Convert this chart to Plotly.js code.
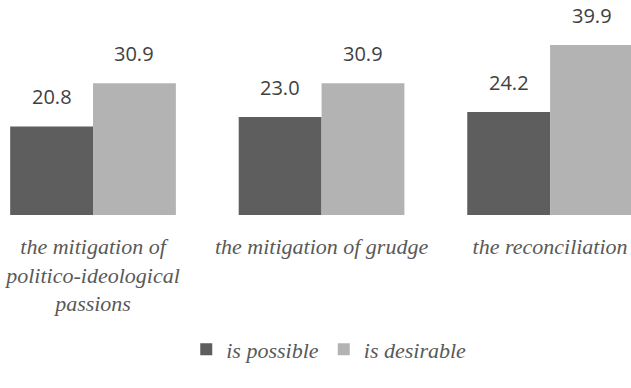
<!DOCTYPE html>
<html>
<head>
<meta charset="utf-8">
<script src="https://cdn.plot.ly/plotly-3.0.1.min.js"></script>
</head>
<body style="margin:0;background:#ffffff">
<div id="chart" style="width:631px;height:388px"></div>
<script>
// Attitudes towards each outcome, in percent
const categories = [
  "the mitigation of<br>politico-ideological<br>passions",
  "the mitigation of grudge",
  "the reconciliation"
];
const seriesNames = ["is possible", "is desirable"];
const possibleValues = [20.8, 23.0, 24.2];
const desirableValues = [30.9, 30.9, 39.9];

const colors = ["#5e5e5e", "#b3b3b3"];
const barGap = 0.275;
const labelFont = "Liberation Serif";
const numberFont = "Open Sans";

const traces = [
  {
    type: "bar",
    name: seriesNames[0],
    x: categories,
    y: possibleValues,
    marker: { color: colors[0] },
    hoverinfo: "skip"
  },
  {
    type: "bar",
    name: seriesNames[1],
    x: categories,
    y: desirableValues,
    marker: { color: colors[1] },
    hoverinfo: "skip"
  }
];

// value labels sit above each bar; a bar's centre is a quarter of the
// group width away from the category centre
const halfOffset = (1 - barGap) / 4;
const annotations = [];
[possibleValues, desirableValues].forEach((vals, s) => {
  vals.forEach((v, i) => {
    annotations.push({
      x: i + (s === 0 ? -halfOffset : halfOffset),
      y: v,
      xref: "x",
      yref: "y",
      text: v.toFixed(1),
      showarrow: false,
      yanchor: "bottom",
      yshift: 14,
      font: { family: numberFont, size: 20, color: "#404040" }
    });
  });
});

const layout = {
  width: 631,
  height: 388,
  margin: { l: 0, r: 0, t: 0, b: 172.5 },
  paper_bgcolor: "#ffffff",
  plot_bgcolor: "#ffffff",
  barmode: "group",
  bargap: barGap,
  bargroupgap: 0,
  showlegend: true,
  legend: {
    orientation: "h",
    x: 0.521,
    xanchor: "center",
    y: -0.625,
    yanchor: "middle",
    font: { family: labelFont, size: 22, color: "#595959", style: "italic" },
    itemwidth: 30,
    traceorder: "normal"
  },
  xaxis: {
    type: "category",
    range: [-0.407, 2.354],
    showline: false,
    showgrid: false,
    zeroline: false,
    ticks: "",
    ticklabelstandoff: 16,
    tickfont: { family: labelFont, size: 22, color: "#595959", style: "italic" },
    fixedrange: true
  },
  yaxis: {
    range: [0, 50.47],
    showgrid: false,
    zeroline: false,
    showline: false,
    showticklabels: false,
    ticks: "",
    fixedrange: true
  },
  annotations: annotations
};

Plotly.newPlot("chart", traces, layout, { displayModeBar: false });
</script>
</body>
</html>
